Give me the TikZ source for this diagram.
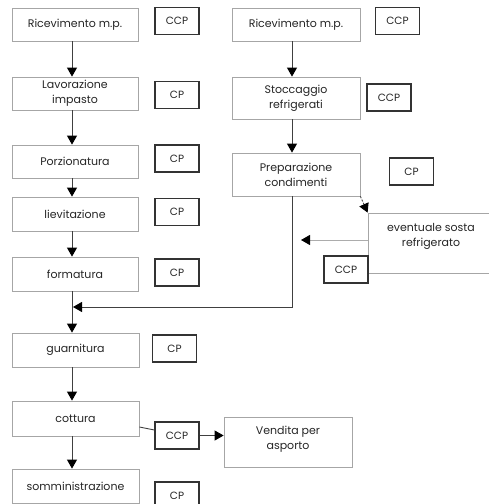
\documentclass[tikz,border=0pt]{standalone}
\usepackage{fontspec}
\setmainfont{Poppins}
\usetikzlibrary{arrows.meta}
\begin{document}
\begin{tikzpicture}[x=1pt,y=-1pt,
  step box/.style={draw=gray!70,line width=0.8pt,fill=white,align=center,
    inner sep=0pt,font=\fontsize{11}{15}\selectfont,text=black!85},
  step text/.style={align=center,inner sep=0pt,
    font=\fontsize{11}{15}\selectfont,text=black!85},
  check box/.style={draw=black!80,line width=1.2pt,fill=white,
    minimum width=44pt,minimum height=27pt,inner sep=0pt,
    text height=7.5pt,text depth=0pt,
    font=\fontsize{10.5}{12}\selectfont,text=black!85},
  link/.style={draw=black!75,line width=0.9pt},
  tip/.style={-{Triangle[width=10pt,length=9pt,color=black]}},
  arr/.style={link,tip},
  pale/.style={draw=gray!65,line width=0.9pt}]
\useasboundingbox (0,0) rectangle (489,504);
\clip (0,0) rectangle (489,504);
\fill[white] (0,0) rectangle (489,504);

% left column: dough line
\node[step box,minimum width=126pt,minimum height=33pt] (l1) at (75,24.5) {Ricevimento m.p.};
\node[step box,minimum width=126pt,minimum height=33pt] (l2) at (75,93.5) {Lavorazione\\impasto};
\node[step box,minimum width=126pt,minimum height=33pt] (l3) at (75,161.5) {Porzionatura};
\node[step box,minimum width=126pt,minimum height=34pt] (l4) at (75,214) {lievitazione};
\node[step box,minimum width=126pt,minimum height=34pt] (l5) at (75,274) {formatura};
\node[step box,minimum width=127pt,minimum height=34pt] (l6) at (75.5,350) {guarnitura};
\node[step box,minimum width=127pt,minimum height=35pt] (l7) at (75.5,418.5) {cottura};
\node[step box,minimum width=127pt,minimum height=34pt] (l8) at (75.5,486) {somministrazione};

\node[check box] (c1) at (177,21) {CCP};
\node[check box] (c2) at (177,95) {CP};
\node[check box] (c3) at (177,158.5) {CP};
\node[check box] (c4) at (177,212) {CP};
\node[check box] (c5) at (177,272.5) {CP};
\node[check box] (c6) at (174.5,348.5) {CP};
\node[check box] (c7) at (177,435.5) {CCP};
\node[check box] (c8) at (177,495.5) {CP};

% right column: toppings line
\node[step box,minimum width=128pt,minimum height=33pt] (r1) at (296,24.5) {Ricevimento m.p.};
\node[step box,minimum width=128pt,minimum height=42pt] (r2) at (296,98) {Stoccaggio\\refrigerati};
\node[step box,minimum width=128pt,minimum height=43pt] (r3) at (296,174.5) {Preparazione\\condimenti};
\node[check box] (rc1) at (397.5,21) {CCP};
\node[check box] (rc2) at (389,97.5) {CCP};
\node[check box] (rc3) at (411.5,171.5) {CP};

\node[step box,minimum width=126pt,minimum height=60pt] (ev) at (431,243) {};
\node[step text] (evt) at (431,236.5) {eventuale sosta\\refrigerato};

\node[step box,minimum width=128pt,minimum height=50pt] (vend) at (288,442) {};
\node[step text] (vendt) at (288,439) {Vendita per\\asporto};

% flow, left column
\draw[arr] ([xshift=-3pt]l1.south) -- ([xshift=-3pt]l2.north);
\draw[arr] ([xshift=-3pt]l2.south) -- ([xshift=-3pt]l3.north);
\draw[arr] ([xshift=-3pt]l3.south) -- ([xshift=-3pt]l4.north);
\draw[arr] ([xshift=-3pt]l4.south) -- ([xshift=-3pt]l5.north);
\draw[arr] ([xshift=-3pt]l5.south) -- ([xshift=-3.5pt]l6.north);
\draw[arr] ([xshift=-3.5pt]l6.south) -- ([xshift=-3.5pt]l7.north);
\draw[arr] ([xshift=-3.5pt]l7.south) -- ([xshift=-3.5pt]l8.north);

% flow, right column
\draw[arr] ([xshift=-4pt]r1.south) -- ([xshift=-4pt]r2.north);
\draw[arr] ([xshift=-4pt]r2.south) -- ([xshift=-4pt]r3.north);

% toppings join the dough line
\coordinate (join) at (73,307);
\draw[arr] ([xshift=-4pt]r3.south) |- (join);

% optional cold storage
\draw[link,dash pattern=on 2pt off 1.5pt,tip] (r3.south east) -- (ev.north west);
\coordinate (back) at (301,240);
\draw[pale,tip] (ev.west |- back) -- (back);
\node[check box] (rc4) at (346,269.5) {CCP};

% baking and take-away sale
\draw[link] (l7.east |- 0,427) -- (c7.west |- 0,430);
\draw[arr] (c7.east) -- (vend.west |- c7.east);
\end{tikzpicture}
\end{document}
